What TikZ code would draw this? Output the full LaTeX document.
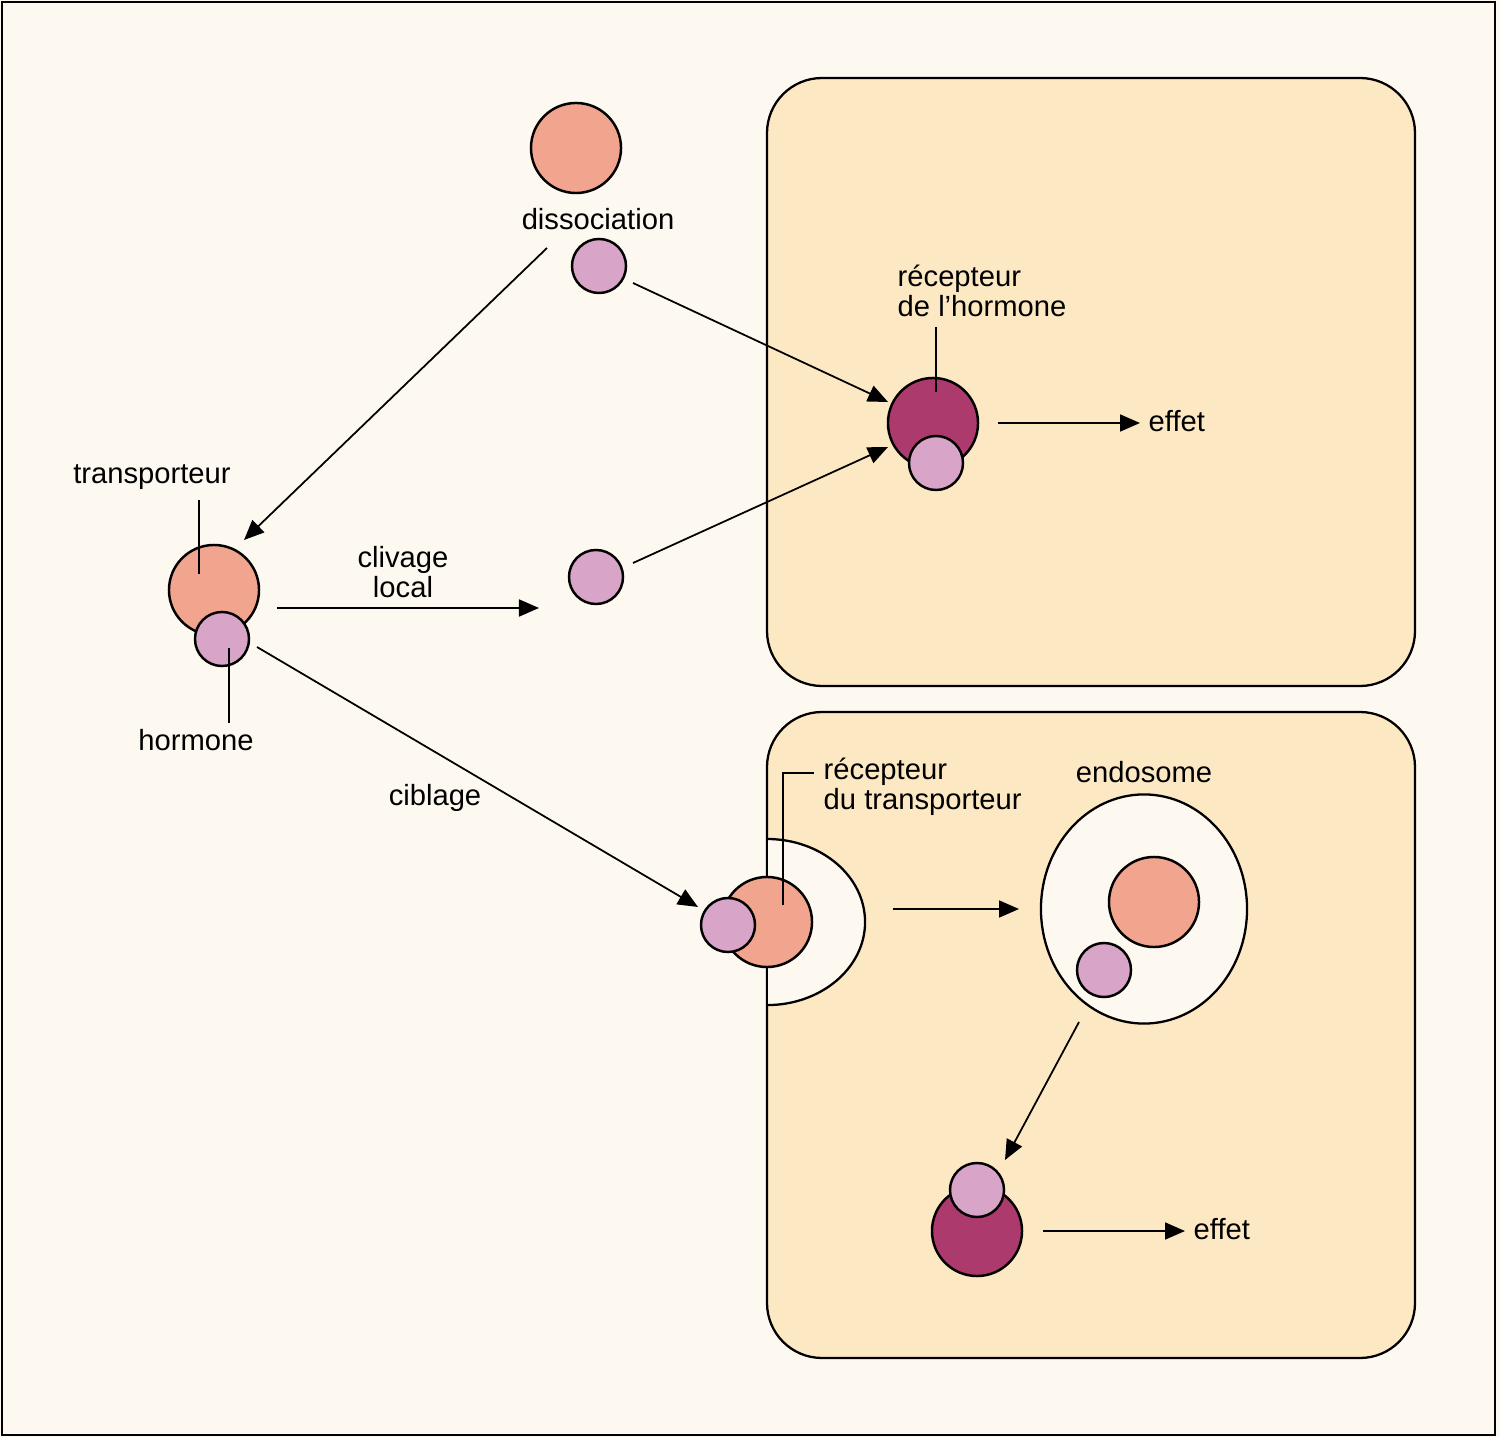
\documentclass[tikz,border=0pt]{standalone}
\usepackage{fontspec}
\setmainfont{Liberation Sans}
\usetikzlibrary{arrows.meta,shapes.geometric}
\definecolor{bgcream}{RGB}{254,249,240}
\definecolor{cellfill}{RGB}{253,232,196}
\definecolor{carrierc}{RGB}{242,165,142}
\definecolor{hormonec}{RGB}{216,165,200}
\definecolor{receptc}{RGB}{172,58,108}
\tikzset{
  lbl/.style={inner sep=0pt, font=\fontsize{8.3}{8.5}\selectfont},
  ball/.style={circle, draw=black, line width=0.7pt, inner sep=0pt},
  carrier/.style={ball, fill=carrierc, minimum size=0.9cm},
  horm/.style={ball, fill=hormonec, minimum size=0.54cm},
  recep/.style={ball, fill=receptc, minimum size=0.9cm},
  cell/.style={draw=black, line width=0.65pt, fill=cellfill, rounded corners=0.55cm},
  arr/.style={line width=0.5pt, -{Triangle[length=0.2cm,width=0.17cm]}},
  leader/.style={line width=0.5pt}
}
\begin{document}
\begin{tikzpicture}[x=0.01cm,y=-0.01cm]
\useasboundingbox (0,0) rectangle (1500,1437);
\fill[bgcream] (0,0) rectangle (1500,1437);
\draw[line width=0.6pt] (2,2) rectangle (1495,1435);

% cells
\draw[cell] (767,78) rectangle (1415,686);
\draw[cell] (767,712) rectangle (1415,1358);

% pocket (receptor of carrier)
\draw[line width=0.65pt, fill=bgcream] (767,839) arc[start angle=90, end angle=-90, x radius=0.98cm, y radius=0.83cm];
\draw[line width=0.65pt] (767,830) -- (767,1015);

% endosome
\node[ellipse, draw=black, line width=0.65pt, fill=bgcream, minimum width=2.06cm, minimum height=2.29cm, inner sep=0pt] (endo) at (1144,909) {};
\node[lbl] (endolbl) at (1144,772) {endosome};

% free carrier top and hormone
\node[carrier] (c1) at (576,148) {};
\node[lbl] (diss) at (598,219) {dissociation};
\node[horm] (h1) at (599,266) {};

% top receptor
\node[recep] (r1) at (933,423) {};
\node[horm] (rh1) at (936,463) {};
\node[lbl, align=left, anchor=west] (r1lbl) at (897,291) {récepteur\\de l’hormone};
\coordinate (r1a) at (936,327);
\coordinate (r1b) at (936,392);
\draw[leader] (r1a) -- (r1b);

% effet top
\coordinate (e1a) at (998,423);
\coordinate (e1b) at (1140,423);
\node[lbl, anchor=west] (eff1) at (1148,421) {effet};
\draw[arr] (e1a) -- (e1b);

% left complex
\node[carrier] (c0) at (214,590) {};
\node[horm] (h0) at (222,639) {};
\node[lbl] (tlbl) at (152,477) {transporteur};
\node[lbl] (hlbl) at (196,740) {hormone};
\coordinate (tl1) at (199,500);
\coordinate (tl2) at (199,574);
\draw[leader] (tl1) -- (tl2);
\coordinate (hl1) at (229,648);
\coordinate (hl2) at (229,723);
\draw[leader] (hl1) -- (hl2);

% middle free hormone
\node[horm] (h2) at (596,577) {};
\node[lbl, align=center] (clv) at (403,572) {clivage\\local};
\node[lbl] (cib) at (435,798) {ciblage};

% arrows
\coordinate (a1s) at (547,248); \coordinate (a1e) at (244,540);
\draw[arr] (a1s) -- (a1e);
\coordinate (a2s) at (633,283); \coordinate (a2e) at (888,402);
\draw[arr] (a2s) -- (a2e);
\coordinate (a3s) at (633,563); \coordinate (a3e) at (888,447);
\draw[arr] (a3s) -- (a3e);
\coordinate (a4s) at (277,608); \coordinate (a4e) at (539,608);
\draw[arr] (a4s) -- (a4e);
\coordinate (a5s) at (257,647); \coordinate (a5e) at (698,907);
\draw[arr] (a5s) -- (a5e);

% pocket complex
\node[carrier] (c3) at (767,922) {};
\node[horm] (h3) at (728,925) {};
\coordinate (pl1) at (783,905);
\coordinate (pl2) at (783,773);
\coordinate (pl3) at (814,773);
\draw[leader] (pl1) -- (pl2) -- (pl3);
\node[lbl, align=left, anchor=west] (plbl) at (823,787) {récepteur\\du transporteur};

\coordinate (a6s) at (893,909); \coordinate (a6e) at (1019,909);
\draw[arr] (a6s) -- (a6e);

% inside endosome
\node[carrier] (c4) at (1154,902) {};
\node[horm] (h4) at (1104,970) {};

\coordinate (a7s) at (1079,1022); \coordinate (a7e) at (1005,1160);
\draw[arr] (a7s) -- (a7e);

% bottom receptor
\node[recep] (r2) at (977,1231) {};
\node[horm] (rh2) at (977,1190) {};
\coordinate (e2a) at (1043,1231);
\coordinate (e2b) at (1185,1231);
\draw[arr] (e2a) -- (e2b);
\node[lbl, anchor=west] (eff2) at (1193,1229) {effet};
\end{tikzpicture}
\end{document}
